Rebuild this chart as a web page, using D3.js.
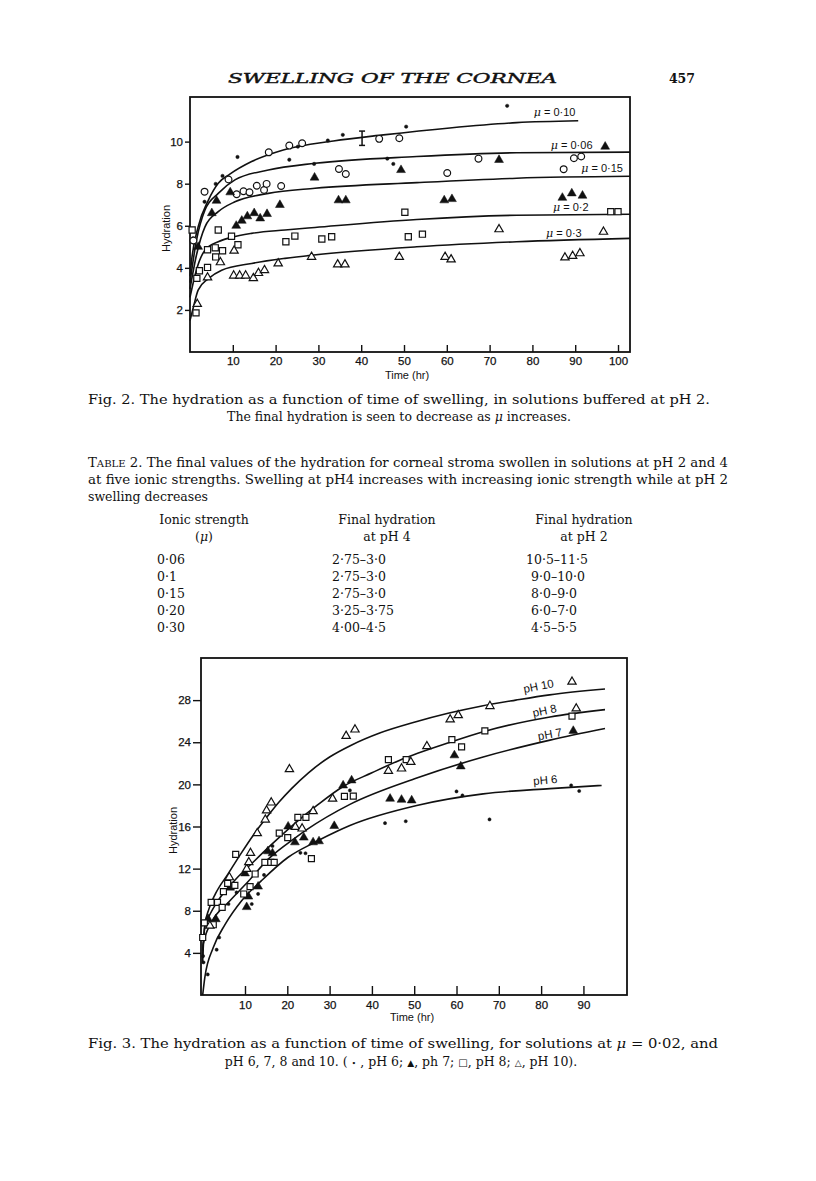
<!DOCTYPE html>
<html>
<head>
<meta charset="utf-8">
<script src="https://cdn.jsdelivr.net/npm/d3@7"></script>
<style>
body { margin: 0; background: #fff; }
svg { display: block; }
.serif { font-family: "DejaVu Serif", serif; fill: #111; font-size: 12.5px; }
.sans { font-family: "Liberation Sans", Arial, sans-serif; fill: #111; }
</style>
</head>
<body>
<svg id="page" width="816" height="1181"></svg>
<script>
// ---- Fig. 2 data (time hr, hydration) ----
let fig2XTicks = [10, 20, 30, 40, 50, 60, 70, 80, 90, 100];
let fig2YTicks = [2, 4, 6, 8, 10];
let fig2Dots = [[0.7,5.4],[3.4,7.14],[6.0,7.99],[7.6,8.37],[11.1,9.27],[23.2,9.14],[25.2,9.76],[29.0,8.94],[32.2,10.05],[35.7,10.32],[46.1,9.19],[47.5,8.94],[50.5,10.71],[74.1,11.7]];
let fig2Circles = [[0.8,5.3],[3.4,7.62],[9.0,8.2],[10.9,7.5],[12.5,7.64],[13.9,7.59],[15.6,7.9],[17.3,7.7],[17.9,7.99],[21.3,7.89],[18.4,9.49],[23.2,9.81],[26.2,9.92],[34.8,8.7],[36.4,8.46],[44.2,10.13],[48.9,10.16],[60.1,8.51],[67.4,9.19],[87.3,8.69],[89.7,9.21],[91.4,9.29]];
let fig2FilledTri = [[1.9,5.0],[5.1,6.6],[6.2,7.19],[9.4,7.59],[10.8,6.0],[12.1,6.24],[13.4,6.45],[15.0,6.6],[16.4,6.35],[18.0,6.56],[21.0,6.99],[29.1,8.29],[34.7,7.21],[36.4,7.21],[49.3,8.65],[59.4,7.21],[61.2,7.27],[72.2,9.13],[87.0,7.33],[89.2,7.54],[91.7,7.43],[97.0,9.76]];
let fig2Squares = [[0.5,5.8],[1.4,1.86],[1.6,3.5],[2.2,3.86],[4.1,4.02],[4.1,4.86],[5.9,4.95],[6.0,4.52],[6.6,5.8],[7.6,4.81],[9.7,5.5],[11.2,5.1],[22.4,5.24],[24.5,5.51],[30.8,5.37],[33.1,5.48],[50.2,6.64],[51.0,5.48],[54.3,5.6],[98.3,6.67],[100.0,6.67]];
let fig2OpenTri = [[1.7,2.28],[4.1,3.54],[7.1,4.26],[10.3,4.81],[10.2,3.63],[11.6,3.63],[13.0,3.63],[14.8,3.51],[16.0,3.75],[17.4,3.89],[20.6,4.21],[28.4,4.52],[34.5,4.16],[36.2,4.16],[48.9,4.52],[59.6,4.52],[61.0,4.4],[72.2,5.83],[87.6,4.49],[89.4,4.56],[91.1,4.69],[96.6,5.71]];
let fig2ErrorBar = [40.2, 9.82, 10.5];
let mu010Curve = [[0,3.6],[0.4,4.4],[1.9,5.95],[4.3,7.22],[6.6,8.02],[9.3,8.45],[14.4,9.05],[21.8,9.6],[33.5,10.03],[45.2,10.32],[60.7,10.65],[76.3,10.9],[90.7,10.99]];
let mu006Curve = [[0,3.3],[1.5,5.3],[3.5,6.75],[6.6,7.54],[10.5,8.18],[18.3,8.65],[29.2,8.97],[53,9.29],[76.3,9.47],[102.8,9.5]];
let mu015Curve = [[0,3.0],[1.5,4.6],[3.5,5.95],[6.6,6.67],[10.5,7.14],[18.3,7.54],[29.2,7.78],[53,8.05],[76.3,8.26],[102.8,8.35]];
let mu02Curve = [[0,2.6],[1.5,3.9],[3.5,4.84],[6.6,5.24],[9.7,5.45],[14.4,5.64],[22.2,5.8],[29.2,5.92],[53,6.3],[76.3,6.5],[102.8,6.55]];
let mu03Curve = [[0,1.5],[0.8,2.14],[1.9,2.94],[4.3,3.49],[7.4,3.89],[14.4,4.21],[22.2,4.45],[28.4,4.6],[53,5.0],[76.3,5.24],[102.8,5.4]];
let fig2Labels = ["0·10", "0·06", "0·15", "0·2", "0·3"];

// ---- Table 2 ----
let ionicStrength = ["0·06", "0·1", "0·15", "0·20", "0·30"];
let finalPH4 = ["2·75–3·0", "2·75–3·0", "2·75–3·0", "3·25–3·75", "4·00–4·5"];
let finalPH2 = ["10·5–11·5", "9·0–10·0", "8·0–9·0", "6·0–7·0", "4·5–5·5"];

// ---- Fig. 3 data ----
let fig3XTicks = [10, 20, 30, 40, 50, 60, 70, 80, 90];
let fig3YTicks = [4, 8, 12, 16, 20, 24, 28];
let ph6Dots = [[0.1,3.7],[0.2,3.1],[1.2,1.95],[3.3,4.3],[3.9,5.46],[6.1,8.64],[8.0,9.74],[11.6,8.64],[13.1,9.6],[14.5,11.4],[16.5,14.15],[20.2,16.0],[23.1,13.5],[24.3,13.46],[34.8,19.43],[43.1,16.32],[48.0,16.5],[60.0,19.33],[61.4,18.95],[67.8,16.67],[87.1,19.9],[89.0,19.37]];
let ph7Tri = [[1.3,7.2],[3.1,7.2],[6.5,10.2],[10.0,11.55],[10.4,8.35],[10.8,9.35],[13.1,10.3],[15.4,13.65],[16.5,13.46],[20.2,16.0],[21.8,14.5],[23.9,14.95],[26.1,14.5],[27.5,14.6],[31.1,16.05],[33.2,19.9],[35.2,20.38],[44.3,18.64],[47.0,18.54],[49.4,18.48],[59.5,22.76],[61.0,21.71],[87.6,25.08]];
let ph8Squares = [[0.0,5.46],[0.4,6.85],[2.0,8.79],[2.5,6.67],[3.5,8.79],[4.6,8.32],[4.9,9.82],[5.9,10.6],[7.6,10.4],[7.8,13.35],[9.7,9.59],[11.2,10.3],[12.4,11.49],[14.7,12.6],[16.1,12.6],[16.9,12.6],[18.1,15.38],[20.1,14.95],[22.5,16.86],[24.4,16.86],[25.7,12.95],[33.5,18.86],[35.6,18.89],[43.9,22.35],[48.1,22.35],[58.9,24.25],[61.2,23.56],[66.7,25.08],[87.3,26.48]];
let ph10Tri = [[1.7,6.57],[6.3,11.17],[10.4,11.97],[10.9,12.6],[11.3,13.48],[12.9,15.36],[14.8,16.65],[15.1,17.52],[16.2,18.27],[20.5,21.43],[21.9,15.95],[23.5,15.8],[26.1,17.45],[30.7,18.64],[33.9,24.6],[36.0,25.2],[43.9,21.27],[47.0,21.5],[49.2,22.12],[53.0,23.62],[58.5,26.16],[60.4,26.57],[67.9,27.43],[87.3,29.74],[88.3,27.2]];
let ph10Curve = [[0,3.5],[0.5,6.6],[1.5,8.2],[3,9.6],[6,11.5],[9,13.4],[12,15.2],[15,16.8],[18,18.3],[21,19.6],[25,21.1],[30,22.6],[35,23.7],[42,24.9],[50,25.9],[58,26.75],[66,27.45],[74,28.0],[82,28.5],[95.1,29.05]];
let ph8Curve = [[0,4.2],[0.5,6.5],[1.3,7.3],[3.7,9.0],[7.6,10.9],[12.4,12.8],[16.3,14.3],[21.8,16.3],[27,18.0],[33.2,19.8],[40,21.1],[46.6,22.3],[58.5,24.0],[66.3,25.0],[82.1,26.4],[95.1,27.1]];
let ph7Curve = [[0,3.0],[0.1,4.8],[2.1,6.9],[6.1,8.8],[10.8,10.8],[15.5,12.9],[21.8,14.9],[24.6,15.7],[34.8,18.1],[50.6,20.6],[66.3,22.6],[82.1,24.2],[95.1,25.3]];
let ph6Curve = [[0,0],[0.5,1.65],[2.5,4.5],[5.3,6.7],[9.2,8.95],[13.9,10.86],[20.2,13.08],[26.5,14.5],[32,15.6],[34.8,16.1],[50.6,18.0],[66.3,19.1],[82.1,19.6],[94.3,19.9]];
let fig3Labels = ["pH 10", "pH 8", "pH 7", "pH 6"];

let svg = d3.select("#page");
svg.append("rect").attr("width", 816).attr("height", 1181).attr("fill", "#fff");

function panel(xDom, xRange, yDom, yRange) {
	return {x: d3.scaleLinear().domain(xDom).range(xRange),
					y: d3.scaleLinear().domain(yDom).range(yRange)};
}

function frame(p, xTicks, yTicks, xLen, yLen, xPad) {
	let [x0, x1] = p.x.range(), [y0, y1] = p.y.range();
	svg.append("rect")
		.attr("x", x0).attr("y", y1).attr("width", x1 - x0).attr("height", y0 - y1)
		.attr("fill", "none").attr("stroke", "#111").attr("stroke-width", 1.8);
	let gx = svg.append("g").attr("transform", `translate(0,${y0})`)
		.call(d3.axisBottom(p.x).tickValues(xTicks).tickSizeInner(-xLen).tickSizeOuter(0).tickPadding(xPad));
	let gy = svg.append("g").attr("transform", `translate(${x0},0)`)
		.call(d3.axisLeft(p.y).tickValues(yTicks).tickSize(yLen).tickPadding(2));
	[gx, gy].forEach(g => {
		g.select(".domain").remove();
		g.selectAll("line").attr("stroke", "#111").attr("stroke-width", 1.4);
		g.selectAll("text").attr("font-family", "Liberation Sans, Arial, sans-serif")
			.attr("font-size", 11.5).attr("fill", "#111").attr("stroke", "#111").attr("stroke-width", 0.25);
	});
}

function curve(p, pts) {
	let line = d3.line().x(d => p.x(d[0])).y(d => p.y(d[1])).curve(d3.curveMonotoneX);
	svg.append("path").datum(pts).attr("d", line)
		.attr("fill", "none").attr("stroke", "#111").attr("stroke-width", 1.6);
}

function marks(p, pts, type, size, filled) {
	let sym = d3.symbol().type(type).size(size);
	svg.append("g").selectAll("path").data(pts).enter().append("path")
		.attr("d", sym)
		.attr("transform", d => `translate(${p.x(d[0])},${p.y(d[1])})`)
		.attr("fill", filled ? "#111" : "#fff")
		.attr("stroke", "#111").attr("stroke-width", filled ? 0.5 : 1.2);
}

function axisTitles(p, cx, cy, lx) {
	svg.append("text").attr("class", "sans").attr("x", cx).attr("y", cy)
		.attr("text-anchor", "middle").attr("font-size", 11).text("Time (hr)");
	svg.append("text").attr("class", "sans")
		.attr("transform", `translate(${lx},${(p.y.range()[0] + p.y.range()[1]) / 2 + 4}) rotate(-90)`)
		.attr("text-anchor", "middle").attr("font-size", 11).text("Hydration");
}

// ---- header ----
svg.append("text").attr("class", "serif").attr("x", 228).attr("y", 83)
	.attr("font-style", "italic").attr("font-size", 14.5).attr("textLength", 329)
	.attr("stroke", "#111").attr("stroke-width", 0.4)
	.attr("lengthAdjust", "spacingAndGlyphs").text("SWELLING OF THE CORNEA");
svg.append("text").attr("class", "serif").attr("x", 695).attr("y", 83)
	.attr("text-anchor", "end").attr("font-weight", "bold").attr("font-size", 14).text("457");

// ---- Fig. 2 ----
let p2 = panel([0, 102.8], [190, 630], [0, 12.12], [352, 97]);
frame(p2, fig2XTicks, fig2YTicks, 7, 5, 5);
[mu010Curve, mu006Curve, mu015Curve, mu02Curve, mu03Curve].forEach(c => curve(p2, c));
marks(p2, fig2Dots, d3.symbolCircle, 9, true);
marks(p2, fig2Circles, d3.symbolCircle, 36, false);
marks(p2, fig2FilledTri, d3.symbolTriangle, 34, true);
marks(p2, fig2Squares, d3.symbolSquare, 38, false);
marks(p2, fig2OpenTri, d3.symbolTriangle, 30, false);

let eb = svg.append("g").attr("stroke", "#111").attr("stroke-width", 1.5);
eb.append("line").attr("x1", p2.x(fig2ErrorBar[0])).attr("x2", p2.x(fig2ErrorBar[0]))
	.attr("y1", p2.y(fig2ErrorBar[1])).attr("y2", p2.y(fig2ErrorBar[2]));
[fig2ErrorBar[1], fig2ErrorBar[2]].forEach(v => eb.append("line")
	.attr("x1", p2.x(fig2ErrorBar[0]) - 3).attr("x2", p2.x(fig2ErrorBar[0]) + 3)
	.attr("y1", p2.y(v)).attr("y2", p2.y(v)));

let fig2LabelPos = [[80.3, 11.2], [84.3, 9.65], [91.4, 8.55], [84.8, 6.7], [83.2, 5.45]];
fig2Labels.forEach((s, i) => {
	let t = svg.append("text").attr("class", "sans").attr("font-size", 11)
		.attr("x", p2.x(fig2LabelPos[i][0])).attr("y", p2.y(fig2LabelPos[i][1]));
	t.append("tspan").attr("font-style", "italic").attr("font-family", "DejaVu Serif, serif").text("μ");
	t.append("tspan").text(" = " + s);
});
axisTitles(p2, 407, 379, 170);

// ---- captions and table ----
function capLine(x, y, parts, len, anchor) {
	let t = svg.append("text").attr("class", "serif").attr("x", x).attr("y", y)
		.attr("text-anchor", anchor || "start");
	if (len) t.attr("textLength", len).attr("lengthAdjust", "spacingAndGlyphs");
	parts.forEach(pt => {
		let s = t.append("tspan").text(pt[0]);
		if (pt[1]) s.attr("font-style", "italic");
		if (pt[2]) s.attr("font-size", pt[2]);
	});
	return t;
}
capLine(88, 404, [["Fig. 2. The hydration as a function of time of swelling, in solutions buffered at pH 2."]], 622);
capLine(399, 421, [["The final hydration is seen to decrease as "], ["μ", true], [" increases."]], null, "middle");

capLine(88, 467, [["T"], ["ABLE", false, 9.5], [" 2. The final values of the hydration for corneal stroma swollen in solutions at pH 2 and 4"]], 640);
capLine(88, 484, [["at five ionic strengths. Swelling at pH4 increases with increasing ionic strength while at pH 2"]], 640);
capLine(88, 501, [["swelling decreases"]]);

capLine(204, 524, [["Ionic strength"]], null, "middle");
capLine(204, 541, [["("], ["μ", true], [")"]], null, "middle");
capLine(387, 524, [["Final hydration"]], null, "middle");
capLine(387, 541, [["at pH 4"]], null, "middle");
capLine(584, 524, [["Final hydration"]], null, "middle");
capLine(584, 541, [["at pH 2"]], null, "middle");
let rowY = d3.scaleLinear().domain([0, 4]).range([564, 632]);
ionicStrength.forEach((s, i) => {
	capLine(157, rowY(i), [[s]]);
	capLine(332, rowY(i), [[finalPH4[i]]]);
	capLine(finalPH2[i].length > 8 ? 526 : 531, rowY(i), [[finalPH2[i]]]);
});

// ---- Fig. 3 ----
let p3 = panel([-0.4, 100.3], [201, 627], [0, 32], [995, 658]);
frame(p3, fig3XTicks, fig3YTicks, 9, 8, 6);
[ph10Curve, ph8Curve, ph7Curve, ph6Curve].forEach(c => curve(p3, c));
marks(p3, ph6Dots, d3.symbolCircle, 8, true);
marks(p3, ph7Tri, d3.symbolTriangle, 34, true);
marks(p3, ph8Squares, d3.symbolSquare, 36, false);
marks(p3, ph10Tri, d3.symbolTriangle, 30, false);

let fig3LabelPos = [[76.0, 28.68, -11], [78.2, 26.4, -12], [79.4, 24.2, -10], [78.2, 19.94, -5]];
fig3Labels.forEach((s, i) => {
	let px = p3.x(fig3LabelPos[i][0]), py = p3.y(fig3LabelPos[i][1]);
	svg.append("text").attr("class", "sans").attr("font-size", 11.5)
		.attr("transform", `translate(${px},${py}) rotate(${fig3LabelPos[i][2]})`)
		.text(s);
});
axisTitles(p3, 412, 1021, 177);

capLine(88, 1048, [["Fig. 3. The hydration as a function of time of swelling, for solutions at "], ["μ", true], [" = 0·02, and"]], 630);
capLine(401, 1066, [["pH 6, 7, 8 and 10. ( "], ["•", false, 8], [" , pH 6; "], ["▲", false, 9], [", ph 7; "], ["□", false, 10], [", pH 8; "], ["△", false, 9], [", pH 10)."]], null, "middle");
</script>
</body>
</html>
